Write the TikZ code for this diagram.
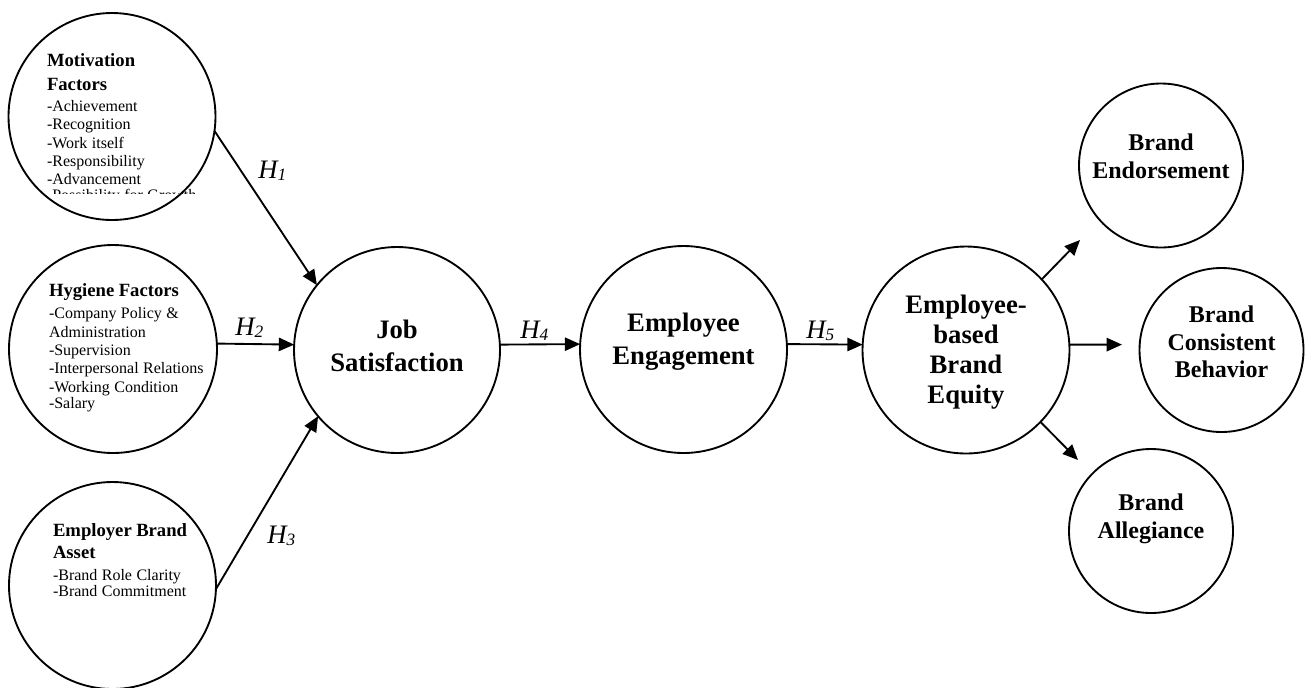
\documentclass[tikz,border=0pt]{standalone}
\usepackage{fontspec}
\setmainfont{Liberation Serif}
\usetikzlibrary{arrows.meta}
\begin{document}
\begin{tikzpicture}[x=0.75pt,y=-0.75pt,
  circ/.style={circle,draw,line width=1.4pt,inner sep=0pt,outer sep=0pt,minimum size=#1},
  conn/.style={line width=1.4pt,-{Triangle[length=11.5pt,width=10pt]}},
  lefttext/.style={anchor=north west,inner sep=0pt,outer sep=0pt,align=left,text width=#1},
  bigtext/.style={inner sep=0pt,align=center,font=\fontsize{20}{24.75}\selectfont\bfseries},
  smalltext/.style={inner sep=0pt,align=center,font=\fontsize{18}{21}\selectfont\bfseries},
  hlabel/.style={anchor=base west,inner sep=0pt,font=\fontsize{20}{24}\selectfont\itshape}
]
\useasboundingbox (0,0) rectangle (1309,687);

% circles
\node[circ=155.25pt] (mot) at (112,116.5) {};
\node[circ=156pt] (hyg) at (113,349) {};
\node[circ=155.25pt] (emp) at (112.5,585.5) {};
\node[circ=154.5pt] (job) at (397,350) {};
\node[circ=155.25pt] (ee) at (683.5,349.5) {};
\node[circ=155.25pt] (ebbe) at (966,350) {};
\node[circ=123pt] (be) at (1161,165.5) {};
\node[circ=123pt] (bcb) at (1221.5,350) {};
\node[circ=123pt] (ba) at (1151,531) {};

% left texts
\begin{scope}
  \clip (40,40) rectangle (215,193);
  \node[lefttext=150pt] (mott) at (47,54) {{\fontsize{14}{18}\selectfont\bfseries Motivation\\Factors\par}\vspace{1.5pt}\fontsize{12}{13.8}\selectfont -Achievement\\-Recognition\\-Work itself\\-Responsibility\\-Advancement\\-Possibility for Growth};
\end{scope}
\node[lefttext=160pt] (hygt) at (49,284) {{\fontsize{14}{17}\selectfont\bfseries Hygiene Factors\par}\vspace{2.5pt}\fontsize{12}{13.8}\selectfont -Company Policy \&\\Administration\\-Supervision\\-Interpersonal Relations\\-Working Condition\\-Salary};
\node[lefttext=150pt] (empt) at (53,524) {{\fontsize{14}{16}\selectfont\bfseries Employer Brand\\Asset\par}\vspace{2.5pt}\fontsize{12}{13.8}\selectfont -Brand Role Clarity\\-Brand Commitment};

% centre texts
\node[bigtext] (jobt) at (397,346) {Job\\Satisfaction};
\node[bigtext] (eet) at (683.5,342) {Employee\\Engagement};
\node[bigtext,font=\fontsize{20}{22.5}\selectfont\bfseries] (ebbet) at (966,352) {Employee-\\based\\Brand\\Equity};
\node[smalltext] (bet) at (1161,156) {Brand\\Endorsement};
\node[smalltext,font=\fontsize{18}{20.5}\selectfont\bfseries] (bcbt) at (1221.5,342) {Brand\\Consistent\\Behavior};
\node[smalltext] (bat) at (1151,519) {Brand\\Allegiance};

% connectors
\coordinate (tipbe) at (1080,240);
\coordinate (tipbcb) at (1122,344.6);
\coordinate (tipba) at (1078,460);
\draw[conn] (mot.-8.5) -- (job.141.9);
\draw[conn] (hyg.3) -- (job.177);
\draw[conn] (emp.-2.2) -- (job.220.3);
\draw[conn] (job.3) -- (ee.177);
\draw[conn] (ee.3) -- (ebbe.177);
\draw[conn] (ebbe.43.8) -- (tipbe);
\draw[conn] (ebbe.3) -- (tipbcb);
\draw[conn] (ebbe.-44.2) -- (tipba);

% hypothesis labels
\node[hlabel] (h1) at (258,178) {H\raisebox{-2pt}{\fontsize{13}{13}\selectfont 1}};
\node[hlabel] (h2) at (235,335) {H\raisebox{-2pt}{\fontsize{13}{13}\selectfont 2}};
\node[hlabel] (h3) at (267,543) {H\raisebox{-2pt}{\fontsize{13}{13}\selectfont 3}};
\node[hlabel] (h4) at (520,338) {H\raisebox{-2pt}{\fontsize{13}{13}\selectfont 4}};
\node[hlabel] (h5) at (806,338) {H\raisebox{-2pt}{\fontsize{13}{13}\selectfont 5}};
\end{tikzpicture}
\end{document}
